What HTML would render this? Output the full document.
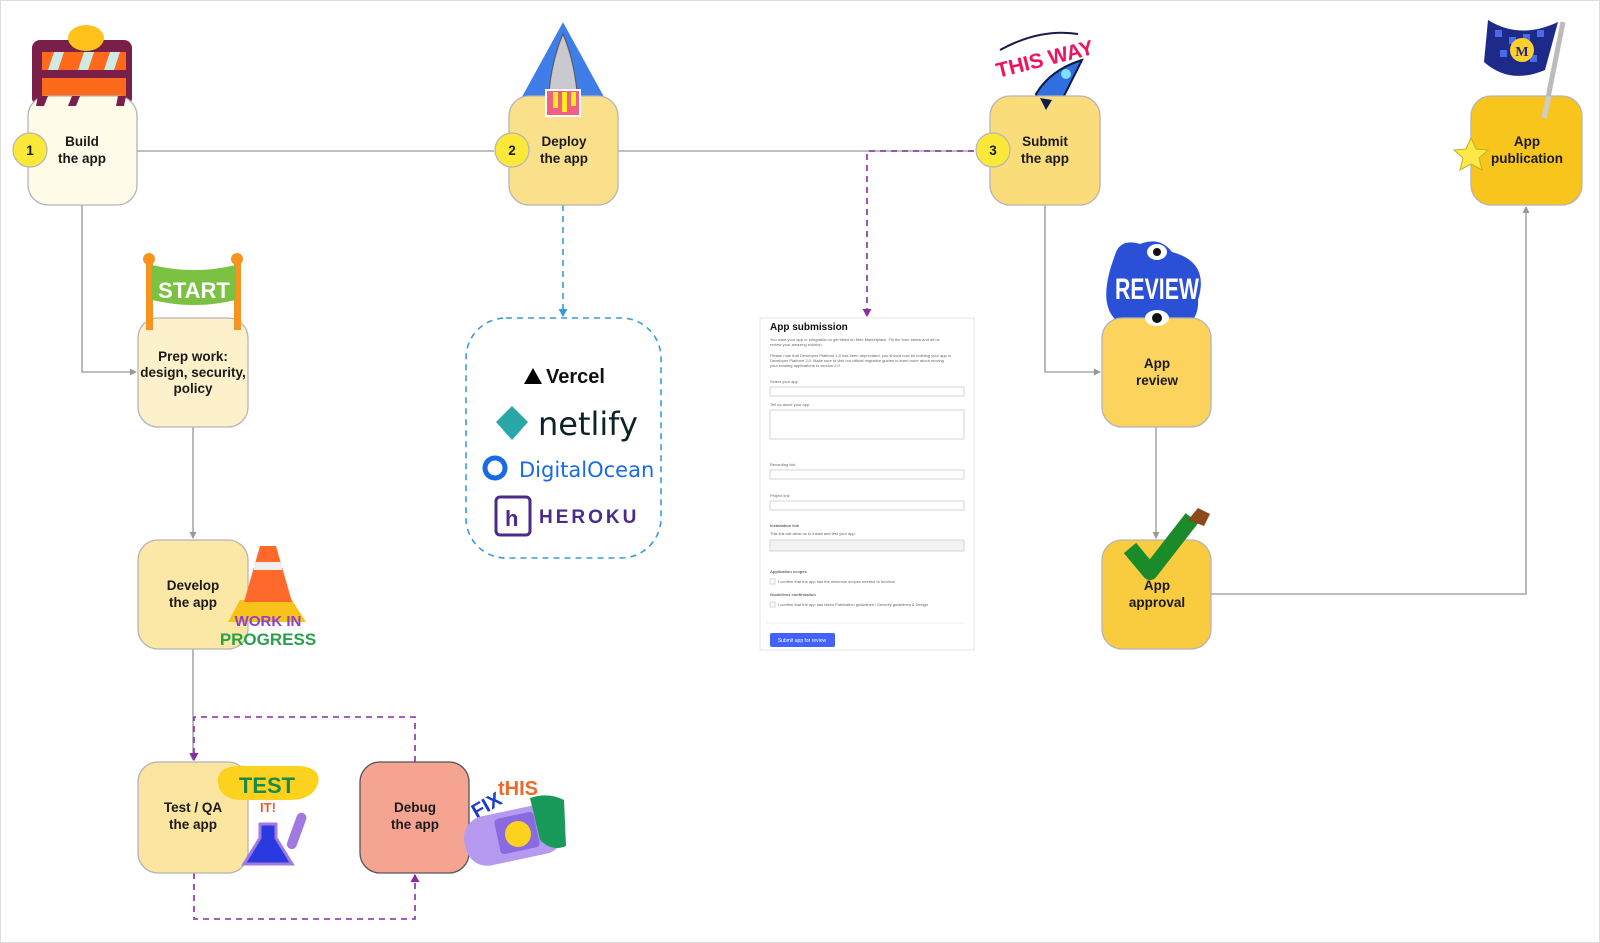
<!DOCTYPE html>
<html><head><meta charset="utf-8"><style>
html,body{margin:0;padding:0;background:#fff;}
svg{display:block;}
text{font-family:"Liberation Sans",sans-serif;}
.lbl{font-weight:bold;font-size:13.5px;fill:#1a1a1a;text-anchor:middle;}
.f{font-size:4px;fill:#666;}
</style></head><body>
<svg width="1600" height="943" viewBox="0 0 1600 943" xmlns="http://www.w3.org/2000/svg">
<defs>
<marker id="ag" markerWidth="8" markerHeight="8" refX="6" refY="4" orient="auto" markerUnits="userSpaceOnUse"><path d="M0,0.5 L7,4 L0,7.5z" fill="#999"/></marker>
<marker id="ap" markerWidth="10" markerHeight="10" refX="7" refY="5" orient="auto" markerUnits="userSpaceOnUse"><path d="M0,0.5 L8,5 L0,9.5z" fill="#8a2aa6"/></marker>
<marker id="ab" markerWidth="10" markerHeight="10" refX="7" refY="5" orient="auto" markerUnits="userSpaceOnUse"><path d="M0,0.5 L8,5 L0,9.5z" fill="#3a9ad9"/></marker>
</defs>
<rect x="0.5" y="0.5" width="1599" height="942" fill="#fff" stroke="#ddd"/>

<g fill="none" stroke="#a8a8a8" stroke-width="1.6">
<line x1="137" y1="151" x2="494" y2="151"/>
<line x1="618" y1="151" x2="974" y2="151"/>
<path d="M82,205 V372 H136" marker-end="url(#ag)"/>
<path d="M193,426 V538" marker-end="url(#ag)"/>
<path d="M193,649 V760" marker-end="url(#ag)"/>
<path d="M1045,205 V372 H1100" marker-end="url(#ag)"/>
<path d="M1156,426 V538" marker-end="url(#ag)"/>
<path d="M1211,594 H1526 V207" marker-end="url(#ag)"/>
</g>
<g fill="none" stroke="#8a2aa6" stroke-width="1.6" stroke-dasharray="6,5">
<path d="M974,151 H867 V316" marker-end="url(#ap)"/>
<path d="M415,762 V717 H194 V760" marker-end="url(#ap)"/>
<path d="M194,873 V919 H415 V875" marker-end="url(#ap)"/>
</g>
<g fill="none" stroke="#3a9ad9" stroke-width="1.6" stroke-dasharray="6,5">
<path d="M563,205 V316" marker-end="url(#ab)"/>
<rect x="466" y="318" width="195" height="240" rx="40"/>
</g>

<!-- barricade -->
<g>
<rect x="32" y="40" width="100" height="66" rx="8" fill="#7a1f4a"/>
<rect x="42" y="52" width="84" height="18" fill="#ff6a1a"/>
<rect x="42" y="78" width="84" height="18" fill="#ff6a1a"/>
<path d="M54,52 l10,0 l-6,18 l-10,0z M84,52 l10,0 l-6,18 l-10,0z M110,52 l10,0 l-6,18 l-10,0z" fill="#cfe9e4"/>
<ellipse cx="86" cy="38" rx="18" ry="13" fill="#ffc21a"/>
</g>
<!-- shuttle -->
<g>
<path d="M563,18 L608,100 Q610,106 602,106 L524,106 Q516,106 518,100z" fill="#3f7de8" stroke="#fff" stroke-width="4"/>
<path d="M563,34 Q574,60 577,92 L549,92 Q552,60 563,34z" fill="#c9c9cf" stroke="#555"/>
</g>
<!-- this way -->
<g>
<text x="1045" y="66" font-size="21" font-weight="bold" fill="#f0115f" text-anchor="middle" transform="rotate(-14 1045 60)">THIS WAY</text>
<path d="M1000,50 Q1040,28 1078,34" stroke="#1a1a4a" stroke-width="2" fill="none"/>
<path d="M1082,60 L1062,100 L1040,108 L1036,94 Q1050,70 1082,60z" fill="#2f6fe0" stroke="#0d1a4a" stroke-width="2"/>
<circle cx="1066" cy="74" r="5" fill="#7fe0ff"/>
</g>
<!-- flag -->
<g>
<path d="M1488,20 Q1520,40 1558,22 L1545,70 Q1510,85 1484,62z" fill="#1e2a8a"/>
<g fill="#4a6be8"><rect x="1495" y="30" width="7" height="7"/><rect x="1509" y="37" width="7" height="7"/><rect x="1523" y="34" width="7" height="7"/><rect x="1537" y="30" width="7" height="7"/><rect x="1500" y="50" width="7" height="7"/><rect x="1530" y="55" width="7" height="7"/></g>
<circle cx="1522" cy="50" r="12" fill="#ffd02b"/>
<text x="1522" y="56" font-size="14" font-weight="bold" text-anchor="middle" fill="#1e2a8a" style="font-family:'Liberation Serif',serif">M</text>
<line x1="1563" y1="22" x2="1544" y2="118" stroke="#bbb" stroke-width="5"/>
</g>
<!-- start -->
<g>
<rect x="146" y="258" width="7" height="72" fill="#f7931e"/><rect x="234" y="258" width="7" height="72" fill="#f7931e"/>
<circle cx="149" cy="259" r="6" fill="#f7931e"/><circle cx="237" cy="259" r="6" fill="#f7931e"/>
<path d="M152,265 Q194,275 236,265 L236,300 Q194,310 152,300z" fill="#7cc242"/>
<text x="194" y="298" font-size="22" fill="#fff" text-anchor="middle" font-weight="bold">START</text>
</g>
<!-- review -->
<g>
<path d="M1115,255 Q1120,238 1140,244 Q1160,236 1172,252 Q1210,262 1198,300 Q1200,330 1160,332 Q1130,340 1114,318 Q1098,300 1115,255z" fill="#2a50d8"/>
<text x="1157" y="299" font-size="30" font-weight="bold" fill="#fff" text-anchor="middle" textLength="84" lengthAdjust="spacingAndGlyphs">REVIEW</text>
<ellipse cx="1157" cy="252" rx="10" ry="8" fill="#fff"/><circle cx="1157" cy="252" r="4" fill="#111"/>
</g>

<g stroke="#b5b5b5" stroke-width="1.3">
<rect x="28" y="96" width="109" height="109" rx="20" fill="#fefbe9"/>
<rect x="509" y="96" width="109" height="109" rx="20" fill="#fbe08c"/>
<rect x="990" y="96" width="110" height="109" rx="20" fill="#fbdc7a"/>
<rect x="1471" y="96" width="111" height="109" rx="20" fill="#f8c51c"/>
<rect x="138" y="318" width="110" height="109" rx="20" fill="#fdf1cb"/>
<rect x="138" y="540" width="110" height="109" rx="20" fill="#fbe8a6"/>
<rect x="138" y="762" width="110" height="111" rx="20" fill="#fbe5a0"/>
<rect x="360" y="762" width="109" height="111" rx="20" fill="#f6a492" stroke="#555"/>
<rect x="1102" y="318" width="109" height="109" rx="20" fill="#fbd35d"/>
<rect x="1102" y="540" width="109" height="109" rx="20" fill="#f9cc3f"/>
</g>
<rect x="546" y="90" width="34" height="26" fill="#f25f82" stroke="#fff" stroke-width="2"/>
<rect x="553" y="92" width="5" height="16" fill="#ffec1a"/><rect x="562" y="92" width="5" height="20" fill="#ffec1a"/><rect x="571" y="92" width="5" height="14" fill="#ffec1a"/>
<rect x="146" y="318" width="7" height="12" fill="#f7931e"/><rect x="234" y="318" width="7" height="12" fill="#f7931e"/>
<ellipse cx="1157" cy="318" rx="12" ry="8" fill="#fff"/><circle cx="1157" cy="318" r="5" fill="#111"/>
<line x1="1549" y1="96" x2="1544" y2="118" stroke="#ccc" stroke-width="5"/>
<path d="M38,96 l10,0 l-4,10 l-8,0z M72,96 l8,0 l-4,10 l-8,0z M118,96 l8,0 l-2,10 l-8,0z" fill="#7a1f4a"/>
<path d="M1040,98 L1052,100 L1046,110z" fill="#0d1a4a"/>

<g stroke="#b5b5b5" stroke-width="1.2" fill="#fbe93a">
<circle cx="30" cy="150" r="17"/><circle cx="512" cy="150" r="17"/><circle cx="993" cy="150" r="17"/>
</g>
<text x="30" y="155" class="lbl">1</text><text x="512" y="155" class="lbl">2</text><text x="993" y="155" class="lbl">3</text>

<path d="M1471,138 l5,11 12,1 -9,8 3,12 -11,-6 -11,6 3,-12 -9,-8 12,-1z" fill="#fbe94a" stroke="#c9b020"/>

<text class="lbl"><tspan x="82" y="146">Build</tspan><tspan x="82" y="163">the app</tspan></text>
<text class="lbl"><tspan x="564" y="146">Deploy</tspan><tspan x="564" y="163">the app</tspan></text>
<text class="lbl"><tspan x="1045" y="146">Submit</tspan><tspan x="1045" y="163">the app</tspan></text>
<text class="lbl"><tspan x="1527" y="146">App</tspan><tspan x="1527" y="163">publication</tspan></text>
<text class="lbl"><tspan x="193" y="361">Prep work:</tspan><tspan x="193" y="377">design, security,</tspan><tspan x="193" y="393">policy</tspan></text>
<text class="lbl"><tspan x="193" y="590">Develop</tspan><tspan x="193" y="607">the app</tspan></text>
<text class="lbl"><tspan x="193" y="812">Test / QA</tspan><tspan x="193" y="829">the app</tspan></text>
<text class="lbl"><tspan x="415" y="812">Debug</tspan><tspan x="415" y="829">the app</tspan></text>
<text class="lbl"><tspan x="1157" y="368">App</tspan><tspan x="1157" y="385">review</tspan></text>
<text class="lbl"><tspan x="1157" y="590">App</tspan><tspan x="1157" y="607">approval</tspan></text>

<g>
<path d="M240,600 L292,600 L306,622 L228,622z" fill="#f7c21a"/>
<path d="M260,546 L276,546 L292,602 L244,602z" fill="#ff6a2a"/>
<rect x="254" y="562" width="28" height="8" fill="#eee"/>
<text x="268" y="626" font-size="15" font-weight="bold" fill="#8a3fd0" text-anchor="middle">WORK IN</text>
<text x="268" y="645" font-size="17" font-weight="bold" fill="#2aa04a" text-anchor="middle">PROGRESS</text>
</g>
<g>
<path d="M218,778 Q220,764 250,766 L300,766 Q322,768 318,784 Q312,800 290,800 L240,800 Q216,798 218,778z" fill="#fcd21e"/>
<text x="267" y="793" font-size="22" font-weight="bold" fill="#1a8a4a" text-anchor="middle">TEST</text>
<text x="268" y="812" font-size="13" font-weight="bold" fill="#ee5a2a" text-anchor="middle">IT!</text>
<path d="M260,824 L276,824 L276,838 L292,864 L244,864 L260,838z" fill="#2a3ae0" stroke="#a07ae0" stroke-width="3"/>
<rect x="292" y="812" width="10" height="38" rx="5" fill="#a07ae0" transform="rotate(20 297 830)"/>
</g>
<g>
<text x="470" y="815" font-size="20" font-weight="bold" fill="#1a3ad0" transform="rotate(-30 480 805)">FIX</text>
<text x="498" y="795" font-size="20" font-weight="bold" fill="#ee6a2a">tHIS</text>
<rect x="464" y="810" width="100" height="50" rx="22" fill="#b59af0" transform="rotate(-12 514 835)"/>
<rect x="497" y="815" width="40" height="36" rx="4" fill="#8a6ae0" transform="rotate(-12 517 833)"/>
<circle cx="518" cy="834" r="13" fill="#fcd21e"/>
<path d="M530,798 Q548,792 564,800 L566,846 Q552,852 540,840z" fill="#1a9a5a"/>
</g>
<g>
<path d="M1130,548 L1150,572 L1192,518" stroke="#1a8a2a" stroke-width="16" fill="none" stroke-linejoin="round"/>
<path d="M1188,520 L1198,508 L1210,514 L1204,526z" fill="#8a4a1a"/>
</g>

<path d="M524,384 L533,368 L542,384z" fill="#000"/>
<text x="546" y="383" font-size="20" font-weight="bold" fill="#111">Vercel</text>
<path d="M512,406 L528,422 L512,440 L496,422z" fill="#2aa8a8"/>
<text x="538" y="435" font-size="32" fill="#0d2226" style="font-family:'DejaVu Sans',sans-serif">netlify</text>
<circle cx="495" cy="468" r="10" fill="none" stroke="#1a6ae8" stroke-width="5"/>
<text x="519" y="477" font-size="21" fill="#1a6ae8" style="font-family:'DejaVu Sans',sans-serif">DigitalOcean</text>
<rect x="496" y="497" width="34" height="38" rx="4" fill="none" stroke="#4a2a8a" stroke-width="3"/>
<text x="505" y="526" font-size="22" font-weight="bold" fill="#4a2a8a">h</text>
<text x="539" y="523" font-size="19" font-weight="bold" fill="#4a2a8a" letter-spacing="3">HEROKU</text>

<rect x="760" y="318" width="214" height="332" fill="#fff" stroke="#e4e4e4"/>
<text x="770" y="330" font-size="10" font-weight="bold" fill="#111">App submission</text>
<g>
<text x="770" y="341" class="f">You want your app or integration to get listed on Miro Marketplace. Fill the form below and let us</text>
<text x="770" y="346" class="f">review your amazing solution.</text>
<text x="770" y="357" class="f">Please note that Developer Platform 1.0 has been deprecated, you should now be building your app in</text>
<text x="770" y="362" class="f">Developer Platform 2.0. Make sure to visit our official migration guides to learn more about moving</text>
<text x="770" y="367" class="f">your existing applications to version 2.0.</text>
<text x="770" y="383" class="f">Select your app</text>
<text x="770" y="406" class="f">Tell us about your app</text>
<text x="770" y="466" class="f">Recording link</text>
<text x="770" y="497" class="f">Project link</text>
<text x="770" y="527" class="f" font-weight="bold" fill="#222">Installation link</text>
<text x="770" y="535" class="f">This link will allow us to install and test your app.</text>
<text x="770" y="573" class="f" font-weight="bold" fill="#222">Application scopes</text>
<text x="778" y="583" class="f">I confirm that the app has the minimum scopes needed to function</text>
<text x="770" y="596" class="f" font-weight="bold" fill="#222">Guidelines confirmation</text>
<text x="778" y="606" class="f">I confirm that the app has taken Publication guidelines / Security guidelines &amp; Design</text>
</g>
<g fill="#fff" stroke="#ccc" stroke-width="0.8">
<rect x="770" y="387" width="194" height="9"/>
<rect x="770" y="410" width="194" height="29"/>
<rect x="770" y="470" width="194" height="9"/>
<rect x="770" y="501" width="194" height="9"/>
<rect x="770" y="540" width="194" height="11" fill="#f2f2f2"/>
<rect x="770" y="579" width="5" height="5"/>
<rect x="770" y="602" width="5" height="5"/>
</g>
<line x1="766" y1="623" x2="964" y2="623" stroke="#eee"/>
<rect x="770" y="633" width="65" height="14" rx="2" fill="#4262ff"/>
<text x="802" y="642" font-size="5" fill="#fff" text-anchor="middle">Submit app for review</text>
</svg>
</body></html>
